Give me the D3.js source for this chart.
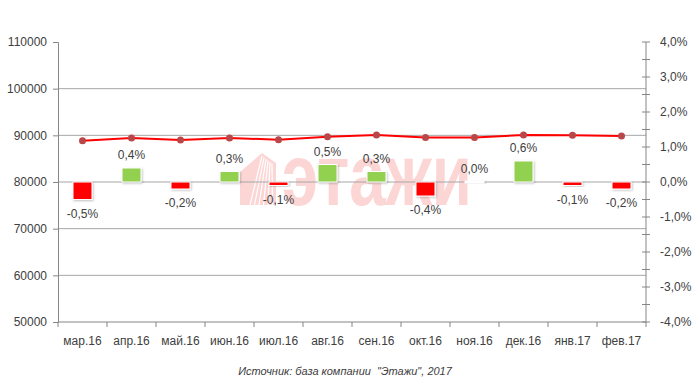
<!DOCTYPE html>
<html><head><meta charset="utf-8">
<script src="https://cdn.jsdelivr.net/npm/d3@7"></script>
<style>body{margin:0;background:#fff}svg{display:block;font-family:"Liberation Sans",Arial,sans-serif}</style>
</head><body><svg id="c" width="699" height="390"></svg>
<script>
const categories = ["мар.16","апр.16","май.16","июн.16","июл.16","авг.16","сен.16","окт.16","ноя.16","дек.16","янв.17","фев.17"];
const priceValues = [88850, 89450, 89000, 89450, 89050, 89700, 90050, 89550, 89550, 90050, 90000, 89850];
const changeValues = [-0.5, 0.4, -0.2, 0.3, -0.1, 0.5, 0.3, -0.4, 0.0, 0.6, -0.1, -0.2];
const leftTicks = [50000, 60000, 70000, 80000, 90000, 100000, 110000];
const rightTicks = [-4, -3, -2, -1, 0, 1, 2, 3, 4];
const sourceText = "Источник: база компании  \"Этажи\", 2017";

const svg = d3.select("#c");
const L = 58, R = 646, T = 42, B = 322;
const x = d3.scaleBand().domain(categories).range([L, R]);
const yL = d3.scaleLinear().domain([50000, 110000]).range([B, T]);
const yR = d3.scaleLinear().domain([-4, 4]).range([B, T]);
const loc = d3.formatLocale({decimal: ",", thousands: "", grouping: [3], currency: ["", ""], minus: "-"});
const fmtPct = v => loc.format(".1f")(v) + "%";

// watermark
const wm = svg.append("g").attr("fill", "#fcd5d5");
wm.append("polygon").attr("points", "240,205 240,172 262,153 276,163 276,205");
const stripes = wm.append("g").attr("stroke", "#fff").attr("stroke-width", 1.2);
for (let i = 0; i < 6; i++) stripes.append("line").attr("x1", 262 + i*2).attr("y1", 156 + i*1.5).attr("x2", 250 + i*4.5).attr("y2", 205);
wm.append("text").attr("x", 282).attr("y", 205).attr("font-size", 88).attr("font-weight", "bold")
  .attr("textLength", 190).attr("lengthAdjust", "spacingAndGlyphs").text("этажи");

// gridlines
svg.append("g").selectAll("line").data(leftTicks.filter(d => d > 50000 && d < 110000)).join("line")
  .attr("x1", L).attr("x2", R).attr("y1", d => yL(d)).attr("y2", d => yL(d))
  .attr("stroke", "#a6a6a6").attr("stroke-width", 1);

// left axis
const gl = svg.append("g").attr("transform", `translate(${L},0)`)
  .call(d3.axisLeft(yL).tickValues(leftTicks).tickSize(5).tickPadding(6).tickFormat(loc.format("d")));
gl.select(".domain").attr("stroke", "#868686");
gl.selectAll(".tick line").attr("stroke", "#868686");
gl.selectAll("text").attr("font-size", 12).attr("fill", "#404040").attr("font-family", "Liberation Sans, Arial");

// right axis
const gr = svg.append("g").attr("transform", `translate(${R},0)`);
gr.append("line").attr("x1", 0).attr("x2", 0).attr("y1", T).attr("y2", B).attr("stroke", "#868686");
const minor = d3.range(-4, 4.01, 0.5);
gr.selectAll("line.t").data(minor).join("line").attr("class", "t")
  .attr("x1", -4).attr("x2", 4).attr("y1", d => yR(d)).attr("y2", d => yR(d)).attr("stroke", "#868686");
gr.selectAll("text").data(rightTicks).join("text")
  .attr("x", 14).attr("y", d => yR(d)).attr("dy", "0.35em").attr("font-size", 12).attr("fill", "#404040")
  .text(fmtPct);

// x axis
svg.append("line").attr("x1", L).attr("x2", R).attr("y1", B).attr("y2", B).attr("stroke", "#868686");
const bounds = categories.map(c => x(c)).concat([R]);
svg.append("g").selectAll("line").data(bounds).join("line")
  .attr("x1", d => d).attr("x2", d => d).attr("y1", B).attr("y2", B + 5).attr("stroke", "#868686");
svg.append("g").selectAll("text").data(categories).join("text")
  .attr("x", d => x(d) + x.bandwidth()/2).attr("y", 341).attr("dy", "0.35em")
  .attr("text-anchor", "middle").attr("font-size", 12).attr("fill", "#404040").text(d => d);

// shadow filter
const defs = svg.append("defs");
const f = defs.append("filter").attr("id", "sh").attr("x", "-30%").attr("y", "-30%").attr("width", "160%").attr("height", "160%");
f.append("feDropShadow").attr("dx", 1).attr("dy", 1).attr("stdDeviation", 1).attr("flood-color", "#000").attr("flood-opacity", 0.25);

// bars
const bw = 19;
svg.append("g").selectAll("rect").data(changeValues).join("rect")
  .attr("x", (d, i) => x(categories[i]) + x.bandwidth()/2 - bw/2)
  .attr("width", bw)
  .attr("y", d => d === 0 ? yR(0) - 1 : Math.min(yR(d), yR(0)))
  .attr("height", d => d === 0 ? 2 : Math.abs(yR(d) - yR(0)))
  .attr("fill", d => d > 0 ? "#92d050" : d < 0 ? "#ff0000" : "#ffffff")
  .attr("stroke", "#fff").attr("stroke-width", 1)
  .attr("filter", "url(#sh)");

svg.append("g").selectAll("text").data(changeValues).join("text")
  .attr("x", (d, i) => x(categories[i]) + x.bandwidth()/2)
  .attr("y", d => d >= 0 ? yR(d) - 13 : yR(d) + 14)
  .attr("dy", "0.35em").attr("text-anchor", "middle").attr("font-size", 12).attr("fill", "#404040")
  .text(fmtPct);

// line
const line = d3.line().x((d, i) => x(categories[i]) + x.bandwidth()/2).y(d => yL(d));
svg.append("path").datum(priceValues).attr("d", line).attr("fill", "none").attr("stroke", "#ff0000").attr("stroke-width", 2);
svg.append("g").selectAll("circle").data(priceValues).join("circle")
  .attr("cx", (d, i) => x(categories[i]) + x.bandwidth()/2).attr("cy", d => yL(d)).attr("r", 3.5)
  .attr("fill", "#b9474a");

// source
svg.append("text").attr("x", 345).attr("y", 371).attr("dy", "0.35em").attr("text-anchor", "middle")
  .attr("font-size", 11).attr("font-style", "italic").attr("fill", "#404040").attr("xml:space", "preserve").text(sourceText);
</script></body></html>
